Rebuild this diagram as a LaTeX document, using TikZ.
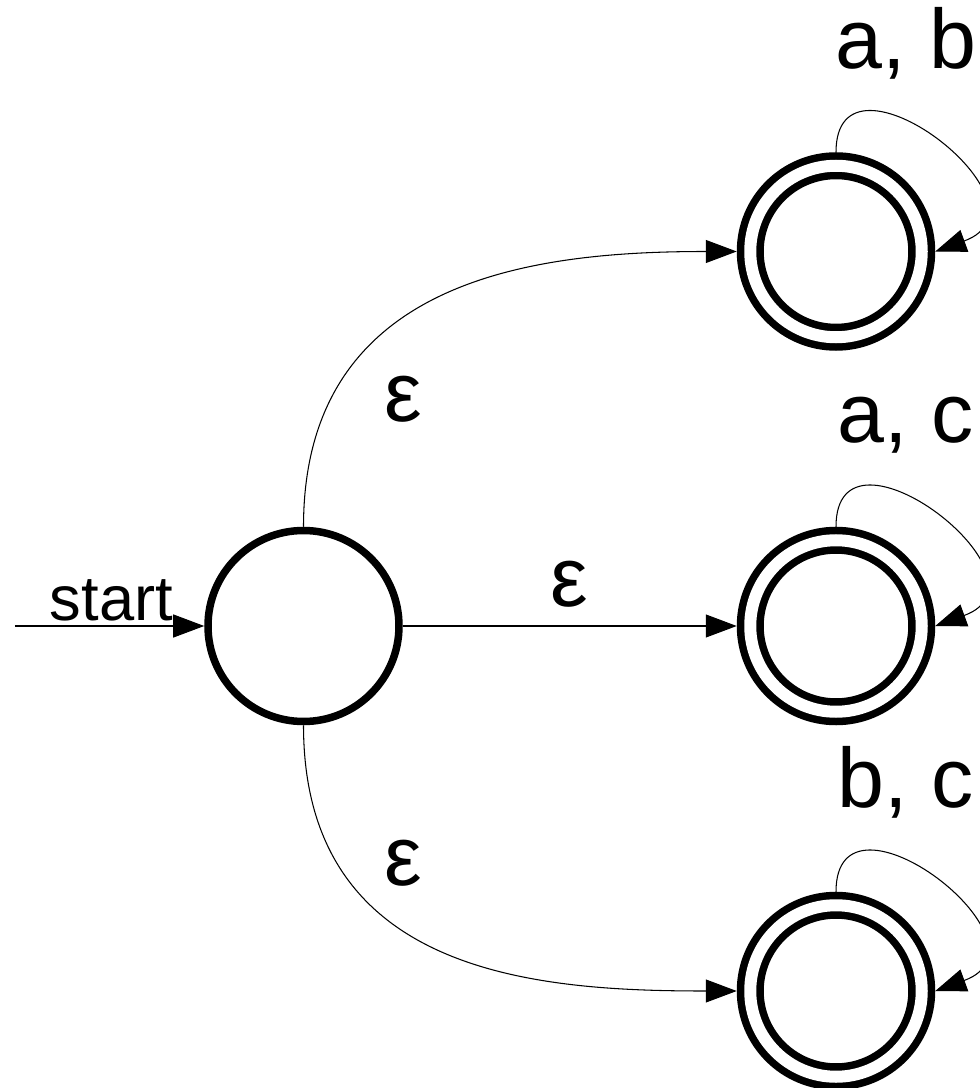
\documentclass[tikz,border=0pt]{standalone}
\usepackage{fontspec}
\setmainfont{Liberation Sans}
\usepackage{tikz}
\usetikzlibrary{positioning, arrows.meta}
\tikzstyle{state} = [circle, draw=black, line width=0.15cm, minimum size=3.82cm, inner sep=0pt]
\tikzstyle{accept} = [circle, draw=black, line width=0.15cm, double, double distance=0.24cm, minimum size=3.43cm, inner sep=0pt, outer sep=0.27cm]
\tikzstyle{arrow} = [line width=0.6pt, -{Triangle[length=0.62cm, width=0.46cm]}]
\tikzstyle{selfloop} = [out=90, in=20, out distance=2.4cm, in distance=2.7cm]
\tikzstyle{lbl} = [font=\fontsize{48}{58}\selectfont, anchor=base, inner sep=0pt]
\tikzstyle{startlbl} = [font=\fontsize{36}{44}\selectfont, anchor=base, inner sep=0pt]

\begin{document}
\begin{tikzpicture}[node distance=7.4cm,]
		\useasboundingbox (-6.07,-9.24) rectangle (13.53,12.52);
		\node (q0) [state] at (0,0) {};
		\node (q2) [accept, right of=q0, xshift=3.25cm] {};
		\node (q1) [accept, above of=q2, yshift=0.09cm] {};
		\node (q3) [accept, below of=q2, yshift=0.1cm] {};
		\coordinate [left of=q0, xshift=1.63cm] (entry);
		\draw [arrow](entry) -- node[startlbl, pos=0.51, yshift=0.12cm] {start}(q0);
		\draw [arrow](q0.north) to[out=90, in=180, out distance=5cm, in distance=4cm] node[lbl, pos=0.18, xshift=1.58cm, yshift=-0.18cm] {ε}(q1.west);
		\draw [arrow](q0) -- node[lbl, yshift=0.4cm] {ε}(q2);
		\draw [arrow](q0.south) to[out=-90, in=180, out distance=5cm, in distance=4cm] node[lbl, pos=0.18, xshift=1.58cm, yshift=-0.94cm] {ε}(q3.west);
		\draw [arrow](q1.north) to[selfloop] node[lbl, pos=0.35, xshift=0.23cm, yshift=0.95cm] {a, b}(q1.east);
		\draw [arrow](q2.north) to[selfloop] node[lbl, pos=0.35, xshift=0.23cm, yshift=0.95cm] {a, c}(q2.east);
		\draw [arrow](q3.north) to[selfloop] node[lbl, pos=0.35, xshift=0.23cm, yshift=0.95cm] {b, c}(q3.east);
		
	\end{tikzpicture}
\end{document}
